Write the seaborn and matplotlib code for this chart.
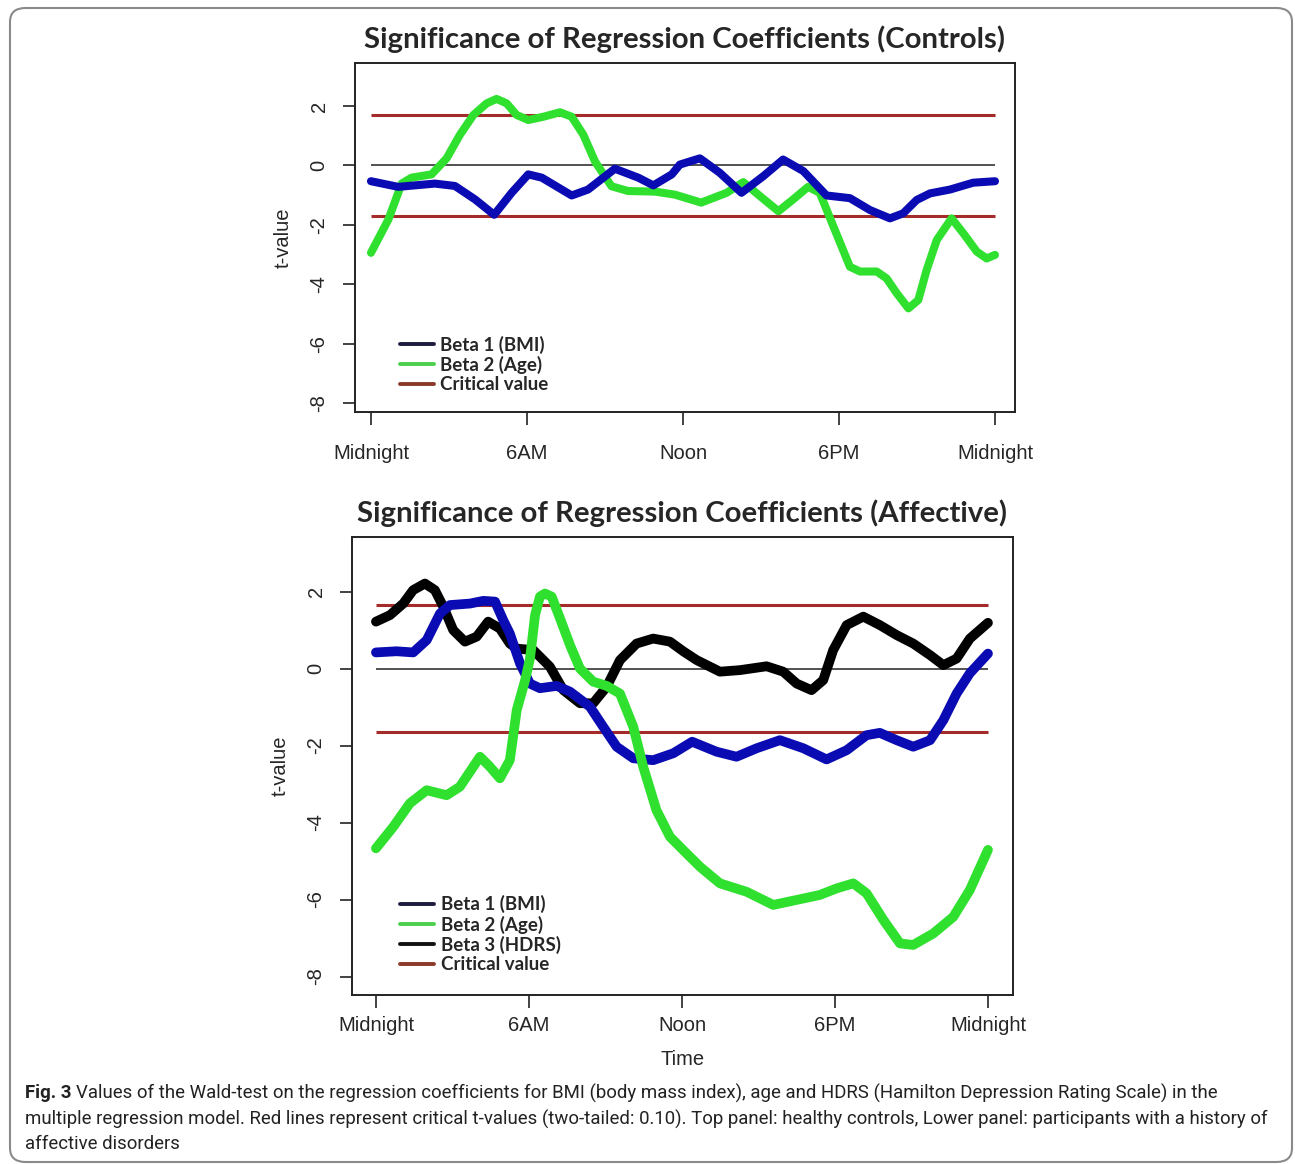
import numpy as np
import pandas as pd
import matplotlib
matplotlib.use("Agg")
import matplotlib.pyplot as plt
import seaborn as sns
from matplotlib.lines import Line2D
from matplotlib.patches import FancyBboxPatch

# ---- Controls panel: t-values over the day (hours since midnight) ----
ctrl_hours_bmi = [0.0, 1.05, 2.46, 3.23, 4.0, 4.74, 5.41, 6.05, 6.57, 7.72, 8.35, 9.38,
                  10.28, 10.86, 11.57, 11.88, 12.65, 13.42, 14.25, 15.09, 15.85, 16.63,
                  17.52, 18.42, 19.19, 19.96, 20.47, 20.99, 21.5, 22.27, 23.16, 24.0]
ctrl_bmi = [-0.53, -0.72, -0.61, -0.69, -1.14, -1.66, -0.92, -0.30, -0.41, -1.01, -0.81, -0.11,
            -0.41, -0.67, -0.30, 0.03, 0.24, -0.25, -0.92, -0.36, 0.20, -0.19,
            -1.01, -1.10, -1.50, -1.78, -1.61, -1.16, -0.94, -0.81, -0.58, -0.53]

ctrl_hours_age = [0.0, 0.67, 1.18, 1.56, 2.33, 2.91, 3.42, 3.94, 4.45, 4.83, 5.22, 5.6,
                  6.05, 6.63, 7.27, 7.72, 8.17, 8.62, 9.25, 9.89, 10.92, 11.68, 12.7,
                  13.68, 14.32, 14.96, 15.67, 16.24, 16.81, 17.26, 17.78, 18.42, 18.81,
                  19.45, 19.83, 20.22, 20.67, 21.05, 21.37, 21.76, 22.33, 22.78, 23.3,
                  23.68, 24.0]
ctrl_age = [-2.94, -1.82, -0.61, -0.41, -0.30, 0.24, 1.03, 1.70, 2.09, 2.24, 2.09, 1.70,
            1.53, 1.64, 1.79, 1.64, 1.03, 0.13, -0.70, -0.86, -0.88, -0.98, -1.25,
            -0.92, -0.56, -1.03, -1.54, -1.14, -0.72, -0.92, -2.04, -3.41, -3.57,
            -3.57, -3.80, -4.30, -4.81, -4.53, -3.52, -2.51, -1.78, -2.28, -2.90,
            -3.13, -3.01]

ctrl_critical = 1.69

# ---- Affective panel ----
aff_hours_bmi = [0.0, 0.81, 1.46, 1.99, 2.51, 2.9, 3.69, 4.21, 4.67, 4.99, 5.25, 5.65,
                 6.04, 6.43, 7.09, 7.61, 8.39, 8.91, 9.44, 10.09, 10.87, 11.66, 12.4,
                 13.36, 14.14, 14.93, 15.84, 16.76, 17.67, 18.46, 19.24, 19.76, 20.42,
                 21.07, 21.73, 22.25, 22.77, 23.29, 24.0]
aff_bmi = [0.42, 0.45, 0.42, 0.74, 1.43, 1.65, 1.69, 1.76, 1.74, 1.26, 0.91, 0.13,
           -0.39, -0.51, -0.45, -0.60, -0.99, -1.51, -2.03, -2.33, -2.38, -2.20, -1.90,
           -2.16, -2.29, -2.07, -1.86, -2.07, -2.36, -2.12, -1.73, -1.67, -1.86,
           -2.03, -1.86, -1.34, -0.65, -0.12, 0.39]

aff_hours_age = [0.0, 0.68, 1.33, 1.99, 2.77, 3.29, 4.08, 4.47, 4.86, 5.25, 5.52, 5.85,
                 6.04, 6.24, 6.43, 6.63, 6.89, 7.22, 7.61, 8.0, 8.52, 9.05, 9.57, 10.09,
                 10.48, 11.0, 11.53, 12.1, 12.71, 13.49, 14.54, 15.58, 16.5, 17.41,
                 18.07, 18.72, 19.24, 19.9, 20.55, 21.07, 21.86, 22.64, 23.29, 24.0]
aff_age = [-4.67, -4.11, -3.50, -3.16, -3.29, -3.07, -2.29, -2.55, -2.85, -2.38, -1.08, -0.30,
           0.26, 1.39, 1.87, 1.95, 1.87, 1.30, 0.61, 0.0, -0.34, -0.45, -0.65, -1.51,
           -2.55, -3.68, -4.37, -4.75, -5.15, -5.58, -5.80, -6.14, -6.01, -5.88,
           -5.71, -5.58, -5.84, -6.53, -7.14, -7.18, -6.88, -6.45, -5.75, -4.71]

aff_hours_hdrs = [0.0, 0.55, 1.07, 1.46, 1.92, 2.31, 2.64, 3.03, 3.49, 3.95, 4.4, 4.86,
                  5.25, 5.52, 6.17, 6.82, 7.35, 8.0, 8.52, 9.05, 9.57, 10.22, 10.87,
                  11.53, 12.05, 12.58, 13.49, 14.27, 15.32, 15.97, 16.5, 17.08, 17.54,
                  17.93, 18.46, 19.11, 19.76, 20.42, 21.07, 21.73, 22.25, 22.77, 23.29,
                  24.0]
aff_hdrs = [1.22, 1.39, 1.69, 2.04, 2.21, 2.04, 1.61, 1.00, 0.70, 0.83, 1.22, 1.04,
            0.65, 0.52, 0.48, 0.05, -0.56, -0.90, -0.90, -0.47, 0.22, 0.65, 0.78,
            0.70, 0.45, 0.22, -0.08, -0.04, 0.06, -0.08, -0.39, -0.56, -0.30,
            0.48, 1.13, 1.35, 1.13, 0.87, 0.65, 0.35, 0.09, 0.26, 0.78,
            1.19]

aff_critical = 1.66

tick_hours = [0, 6, 12, 18, 24]
tick_labels = ["Midnight", "6AM", "Noon", "6PM", "Midnight"]
y_ticks = [2, 0, -2, -4, -6, -8]

BLUE = "#0b0bb3"
GREEN = "#2fe02f"
BLACK = "#000000"
CRIT = "#a52a2a"

sns.set_theme(style="white")
plt.rcParams["font.family"] = ["Liberation Sans", "DejaVu Sans"]

fig = plt.figure(figsize=(12.95, 11.64), dpi=100)


def long_frame(series):
    parts = []
    for name, hours, vals in series:
        parts.append(pd.DataFrame({"hour": hours, "t": vals, "coef": name}))
    return pd.concat(parts, ignore_index=True)


def style_axes(ax, xlim, ylim, title, xpad):
    ax.set_xlim(*xlim)
    ax.set_ylim(*ylim)
    ax.set_xticks(tick_hours)
    ax.set_xticklabels(tick_labels, fontsize=14.5)
    ax.set_yticks(y_ticks)
    ax.set_yticklabels([str(v) for v in y_ticks], fontsize=14.5, rotation=90, va="center")
    ax.tick_params(axis="both", direction="out", length=9, width=1.2, color="#222222",
                   bottom=True, left=True, top=False, right=False)
    ax.tick_params(axis="x", pad=xpad)
    ax.tick_params(axis="y", pad=10)
    for s in ax.spines.values():
        s.set_color("#222222")
        s.set_linewidth(1.4)
    ax.set_ylabel("t-value", fontsize=14.5, labelpad=12)
    ax.set_xlabel("")
    ax.set_title(title, fontsize=21.2, fontweight="bold", family=["Lato", "DejaVu Sans"], pad=11)


def draw_panel(ax, series, palette, crit, lw):
    df = long_frame(series)
    ax.hlines(0, 0, 24, color="#333333", lw=1.2, zorder=1)
    ax.hlines([crit, -crit], 0, 24, color=CRIT, lw=2.2, zorder=1)
    for name, _, _ in series:
        sns.lineplot(data=df[df["coef"] == name], x="hour", y="t", color=palette[name],
                     lw=lw, sort=False, estimator=None, legend=False, ax=ax,
                     solid_joinstyle="round", solid_capstyle="round", zorder=3)


def add_legend(ax, entries, anchor):
    handles = [Line2D([0], [0], color=c, lw=2.8) for _, c in entries]
    ax.legend(handles, [n for n, _ in entries], loc="upper left", bbox_to_anchor=anchor,
              frameon=False, handlelength=1.8, handletextpad=0.35, labelspacing=0.12,
              borderpad=0, borderaxespad=0,
              prop={"family": ["Lato", "DejaVu Sans"], "weight": "bold", "size": 13.5})


# ---- top panel ----
ax1 = fig.add_axes([0.2741, 0.6460, 0.5097, 0.2999])
draw_panel(ax1,
           [("Beta 2 (Age)", ctrl_hours_age, ctrl_age),
            ("Beta 1 (BMI)", ctrl_hours_bmi, ctrl_bmi)],
           {"Beta 1 (BMI)": BLUE, "Beta 2 (Age)": GREEN}, ctrl_critical, 5.8)
style_axes(ax1, (-0.615, 24.77), (-8.30, 3.45),
           "Significance of Regression Coefficients (Controls)", 14)
add_legend(ax1, [("Beta 1 (BMI)", "#1c1c3c"), ("Beta 2 (Age)", "#4cd04c"),
                 ("Critical value", "#8b3a2a")], (0.068, 0.219))

# ---- bottom panel ----
ax2 = fig.add_axes([0.2718, 0.1452, 0.5104, 0.3935])
draw_panel(ax2,
           [("Beta 3 (HDRS)", aff_hours_hdrs, aff_hdrs),
            ("Beta 1 (BMI)", aff_hours_bmi, aff_bmi),
            ("Beta 2 (Age)", aff_hours_age, aff_age)],
           {"Beta 1 (BMI)": BLUE, "Beta 2 (Age)": GREEN, "Beta 3 (HDRS)": BLACK},
           aff_critical, 7.0)
style_axes(ax2, (-0.94, 24.98), (-8.48, 3.42),
           "Significance of Regression Coefficients (Affective)", 6)
ax2.set_xlabel("Time", fontsize=14.5, labelpad=11)
add_legend(ax2, [("Beta 1 (BMI)", "#1c1c3c"), ("Beta 2 (Age)", "#4cd04c"),
                 ("Beta 3 (HDRS)", "#111111"), ("Critical value", "#8b3a2a")],
           (0.073, 0.218))

# ---- caption ----
cap_font = ["Roboto", "DejaVu Sans"]
cap_size = 13.0
lines = [
    "Values of the Wald-test on the regression coefficients for BMI (body mass index), age and HDRS (Hamilton Depression Rating Scale) in the",
    "multiple regression model. Red lines represent critical t-values (two-tailed: 0.10). Top panel: healthy controls, Lower panel: participants with a history of",
    "affective disorders",
]
x0 = 25 / 1295
t_fig = fig.text(x0, 1 - 1093 / 1164, "Fig. 3", fontsize=cap_size, fontweight="bold",
                 family=cap_font, va="center", ha="left", color="#222222")
t_l1 = fig.text(0, 0, lines[0], fontsize=cap_size, family=cap_font, va="center",
                ha="left", color="#222222")
t_l2 = fig.text(x0, 1 - 1119 / 1164, lines[1], fontsize=cap_size, family=cap_font,
                va="center", ha="left", color="#222222")
t_l3 = fig.text(x0, 1 - 1144 / 1164, lines[2], fontsize=cap_size, family=cap_font,
                va="center", ha="left", color="#222222")

# size the caption so its widest line spans the frame width
fig.canvas.draw()
renderer = fig.canvas.get_renderer()
w2 = t_l2.get_window_extent(renderer).width
scale = 1245.0 / w2
for t in (t_fig, t_l1, t_l2, t_l3):
    t.set_fontsize(cap_size * scale)
fig.canvas.draw()
fig_bb = t_fig.get_window_extent(renderer)
gap = 5
t_l1.set_position(((fig_bb.x1 + gap) / fig.bbox.width, 1 - 1093 / 1164))

# rounded frame around the whole figure
frame = FancyBboxPatch((10 / 1295, 2 / 1164), 1282 / 1295, 1154 / 1164,
                       boxstyle="round,pad=0,rounding_size=0.012",
                       transform=fig.transFigure, fill=False, ec="#8a8a8a", lw=1.5)
fig.patches.append(frame)

fig.savefig("out.png", dpi=100)
